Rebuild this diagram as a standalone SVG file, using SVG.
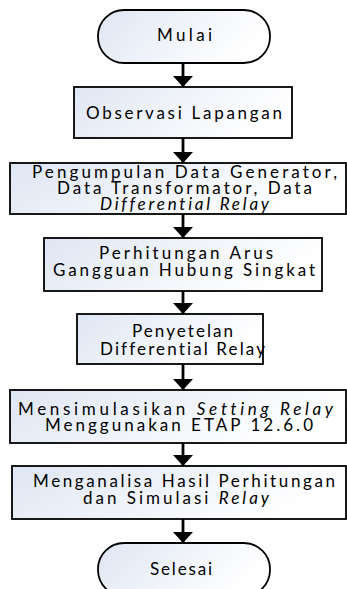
<svg xmlns="http://www.w3.org/2000/svg" width="347" height="589" viewBox="0 0 347 589">
<defs>
<linearGradient id="g" x1="0" y1="0" x2="1" y2="0.3">
<stop offset="0" stop-color="#dfe6f3"/>
<stop offset="1" stop-color="#ffffff"/>
</linearGradient>
<marker id="ah" viewBox="0 0 11 20" refX="11" refY="10" markerWidth="11" markerHeight="20" markerUnits="userSpaceOnUse" orient="auto">
<path d="M0,0 L11,10 L0,20 Z" fill="#000"/>
</marker>
<style>
.n{fill:url(#g);stroke:#000;stroke-width:1.8}
.t{font-family:Lato,"Open Sans",sans-serif;font-size:17px;fill:#000;font-variant-ligatures:none}
.i{font-style:italic}
.c{stroke:#000;stroke-width:2.8;fill:none;marker-end:url(#ah)}
</style>
</defs>
<rect width="347" height="589" fill="#fff"/>
<g id="connectors">
<line class="c" x1="183" y1="63" x2="183" y2="87"/>
<line class="c" x1="183" y1="138" x2="183" y2="163"/>
<line class="c" x1="183" y1="214" x2="183" y2="238"/>
<line class="c" x1="183" y1="291" x2="183" y2="314"/>
<line class="c" x1="183" y1="364" x2="183" y2="390"/>
<line class="c" x1="183" y1="443" x2="183" y2="466"/>
<line class="c" x1="183" y1="519" x2="183" y2="543"/>
</g>
<g id="mulai">
<rect class="n" x="98" y="10" width="172" height="53" rx="26" ry="26"/>
<text class="t" x="157" y="41" textLength="55" lengthAdjust="spacing">Mulai</text>
</g>
<g id="observasi">
<rect class="n" x="74" y="87" width="218" height="51"/>
<text class="t" x="86" y="119" textLength="196" lengthAdjust="spacing">Observasi Lapangan</text>
</g>
<g id="pengumpulan">
<rect class="n" x="10" y="163" width="336" height="51"/>
<text class="t" x="32" y="178" textLength="305" lengthAdjust="spacing">Pengumpulan Data Generator,</text>
<text class="t" x="57" y="194" textLength="255" lengthAdjust="spacing">Data Transformator, Data</text>
<text class="t i" x="100" y="210" textLength="169" lengthAdjust="spacing">Differential Relay</text>
</g>
<g id="perhitungan">
<rect class="n" x="44" y="238" width="278" height="53"/>
<text class="t" x="99" y="259" textLength="174" lengthAdjust="spacing">Perhitungan Arus</text>
<text class="t" x="53" y="276" textLength="262" lengthAdjust="spacing">Gangguan Hubung Singkat</text>
</g>
<g id="penyetelan">
<rect class="n" x="77" y="314" width="186" height="50"/>
<text class="t" x="132" y="337" textLength="101" lengthAdjust="spacing">Penyetelan</text>
<text class="t" x="100" y="355" textLength="165" lengthAdjust="spacing">Differential Relay</text>
</g>
<g id="mensimulasikan">
<rect class="n" x="10" y="390" width="336" height="53"/>
<text class="t" x="18" y="415" textLength="315" lengthAdjust="spacing">Mensimulasikan <tspan class="i">Setting Relay</tspan></text>
<text class="t" x="45" y="431" textLength="268" lengthAdjust="spacing">Menggunakan ETAP 12.6.0</text>
</g>
<g id="menganalisa">
<rect class="n" x="12" y="466" width="334" height="53"/>
<text class="t" x="33" y="487" textLength="302" lengthAdjust="spacing">Menganalisa Hasil Perhitungan</text>
<text class="t" x="83" y="504" textLength="186" lengthAdjust="spacing">dan Simulasi <tspan class="i">Relay</tspan></text>
</g>
<g id="selesai">
<rect class="n" x="98" y="543" width="172" height="53" rx="26" ry="26"/>
<text class="t" x="150" y="575" textLength="62" lengthAdjust="spacing">Selesai</text>
</g>
</svg>
